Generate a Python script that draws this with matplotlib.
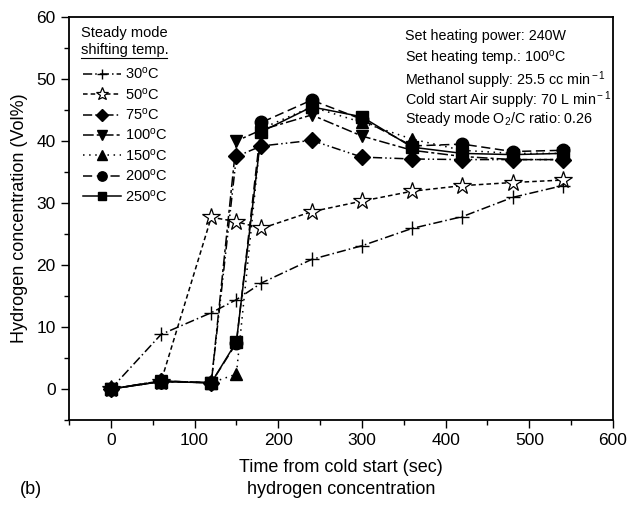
import matplotlib
matplotlib.use("Agg")
import matplotlib.pyplot as plt
from matplotlib.lines import Line2D

plt.rcParams['font.family'] = ['Liberation Sans', 'DejaVu Sans']
plt.rcParams['mathtext.fontset'] = 'custom'
plt.rcParams['mathtext.rm'] = 'Liberation Sans'
plt.rcParams['mathtext.it'] = 'Liberation Sans:italic'

time = [0, 60, 120, 150, 180, 240, 300, 360, 420, 480, 540]
h2_30 = [0, 8.8, 12.3, 14.4, 17.1, 20.9, 23.1, 25.9, 27.8, 30.9, 32.8]
h2_50 = [0, 1.2, 27.7, 27.0, 25.9, 28.6, 30.3, 31.9, 32.8, 33.3, 33.7]
h2_75 = [0, 1.3, 1.0, 37.5, 39.2, 40.1, 37.4, 37.1, 37.0, 37.0, 37.0]
h2_100 = [0, 1.3, 1.0, 40.0, 41.8, 44.2, 40.8, 38.5, 37.5, 37.0, 37.0]
h2_150 = [0, 1.2, 1.0, 2.4, 42.0, 45.5, 43.0, 40.3, 38.5, 38.0, 38.0]
h2_200 = [0, 1.2, 1.0, 7.4, 43.0, 46.6, 43.5, 39.2, 39.5, 38.3, 38.5]
h2_250 = [0, 1.2, 1.0, 7.6, 41.5, 45.5, 43.9, 39.0, 38.0, 37.8, 38.0]
labels = ['30$^{\\rm o}$C', '50$^{\\rm o}$C', '75$^{\\rm o}$C', '100$^{\\rm o}$C',
          '150$^{\\rm o}$C', '200$^{\\rm o}$C', '250$^{\\rm o}$C']

fig = plt.figure(figsize=(6.3, 5.09), dpi=100)
ax = fig.add_axes([0.1095, 0.1749, 0.8635, 0.7917])

styles = [
    dict(ls=(0, (6, 2, 1, 2)), marker='+', ms=10, mew=1.0, mfc='none'),
    dict(ls=(0, (3, 2)), marker='*', ms=13, mew=0.9, mfc='white'),
    dict(ls=(0, (6, 2, 1, 2, 1, 2)), marker='D', ms=8, mfc='black'),
    dict(ls=(0, (7, 2, 2, 2)), marker='v', ms=9, mfc='black'),
    dict(ls=(0, (1, 3)), marker='^', ms=9, mfc='black'),
    dict(ls=(0, (6, 3)), marker='o', ms=9, mfc='black'),
    dict(ls='-', marker='s', ms=8, mfc='black'),
]
series = [h2_30, h2_50, h2_75, h2_100, h2_150, h2_200, h2_250]
handles = []
for y, st, lab in zip(series, styles, labels):
    h, = ax.plot(time, y, color='black', lw=1.1, mec='black', label=lab, **st)
    handles.append(h)

ax.set_xlim(-50, 600)
ax.set_ylim(-5, 60)
ax.set_xticks(range(0, 601, 100))
ax.set_xticks(range(-50, 601, 50), minor=True)
ax.set_yticks(range(0, 61, 10))
ax.set_yticks(range(-5, 61, 5), minor=True)
ax.tick_params(which='both', direction='out', top=False, right=False, labelsize=12.5)
ax.tick_params(which='major', length=6, width=1)
ax.tick_params(which='minor', length=3.5, width=1)
for s in ax.spines.values():
    s.set_linewidth(1.3)

ax.set_xlabel('Time from cold start (sec)', fontsize=13, labelpad=8)
ax.set_ylabel('Hydrogen concentration (Vol%)', fontsize=13, labelpad=6)

# legend title
ax.text(0.022, 0.978, 'Steady mode', transform=ax.transAxes, fontsize=10.5, va='top')
ax.text(0.022, 0.935, 'shifting temp.', transform=ax.transAxes, fontsize=10.5, va='top')
ax.add_line(Line2D([0.022, 0.18], [0.898, 0.898], transform=ax.transAxes, color='black', lw=0.8))

leg = ax.legend(handles=handles, loc='upper left', bbox_to_anchor=(0.015, 0.893),
                frameon=False, fontsize=10.5, handlelength=2.6, handletextpad=0.3,
                labelspacing=0.3, borderaxespad=0, markerscale=0.75)

info = ['Set heating power: 240W',
        'Set heating temp.: 100$^{\\rm o}$C',
        'Methanol supply: 25.5 cc min$^{\\rm -1}$',
        'Cold start Air supply: 70 L min$^{\\rm -1}$',
        'Steady mode O$_{\\rm 2}$/C ratio: 0.26']
for i, t in enumerate(info):
    ax.text(0.618, 0.97 - i * 0.05, t, transform=ax.transAxes, fontsize=10.3, va='top')

fig.text(20 / 630, 1 - 490 / 509, '(b)', fontsize=13, va='center', ha='left')
fig.text(341 / 630, 1 - 490 / 509, 'hydrogen concentration', fontsize=13, va='center', ha='center')

fig.savefig('out.png', dpi=100)
